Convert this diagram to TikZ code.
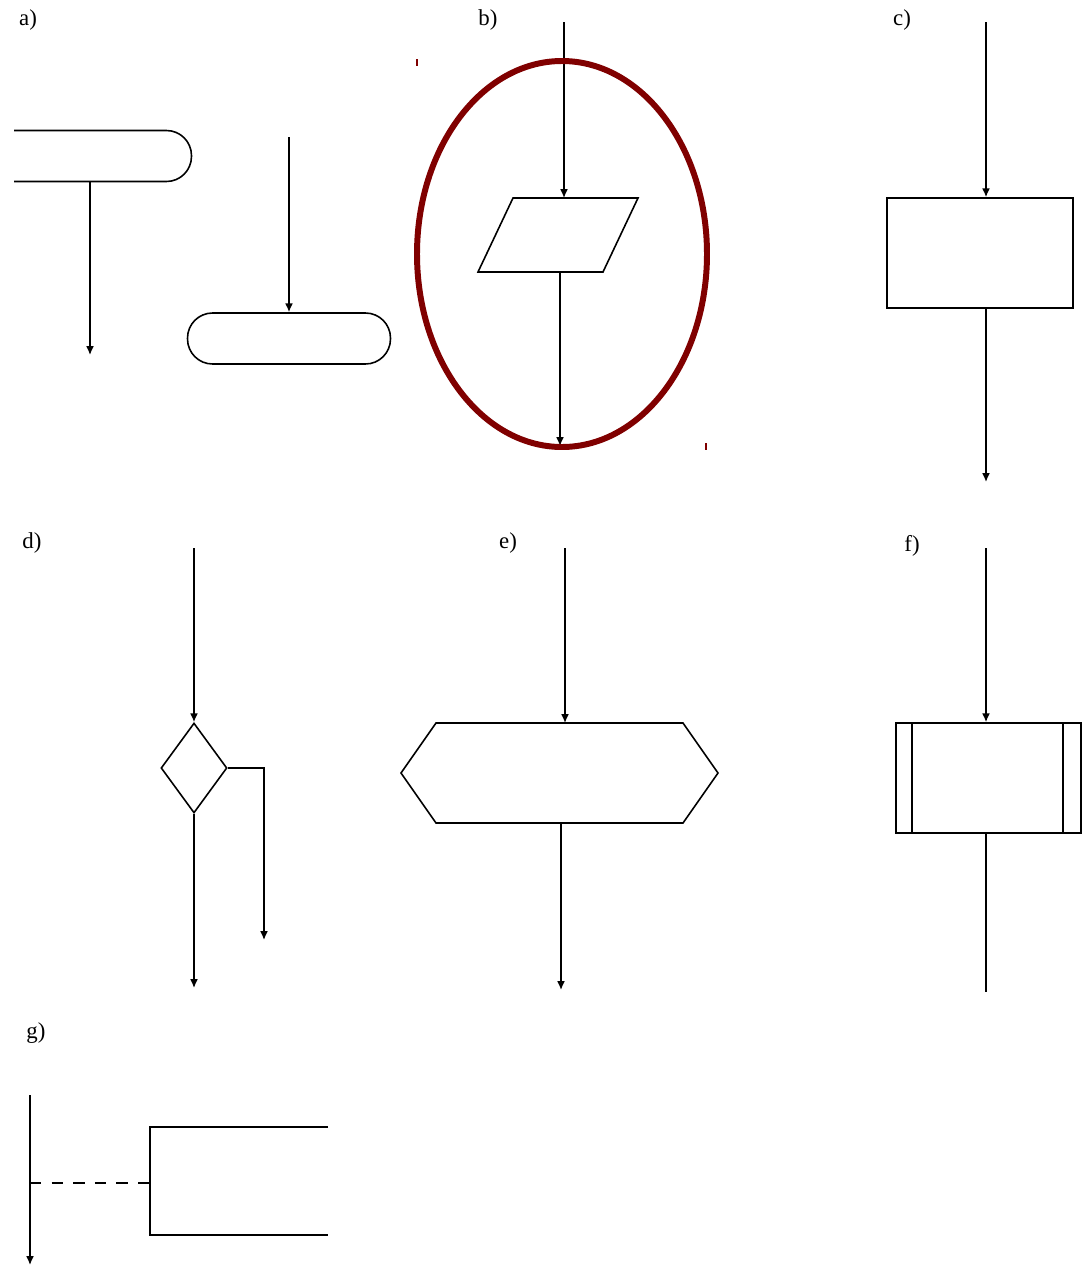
\documentclass[tikz,border=0pt]{standalone}
\usepackage{fontspec}
\setmainfont{Liberation Serif}
\usetikzlibrary{arrows.meta,shapes.geometric}
\definecolor{darkred}{RGB}{128,0,0}
\begin{document}
\begin{tikzpicture}[x=0.02cm,y=-0.02cm]
        \tikzstyle{line}=[draw, line width=0.9pt]
        \tikzstyle{flow}=[line, -{Latex[length=5pt,width=4.5pt]}]
        \tikzstyle{terminal}=[draw, line width=0.9pt, rectangle, rounded corners=0.5cm, minimum width=4.06cm, minimum height=1.02cm, inner sep=0pt]
        \tikzstyle{process}=[draw, line width=0.9pt, rectangle, inner sep=0pt]
        \tikzstyle{decision}=[draw, line width=0.9pt, diamond, minimum width=1.32cm, minimum height=1.8cm, inner sep=0pt]
        \tikzstyle{tag}=[font=\fontsize{13}{15}\selectfont, inner sep=0pt]

        \useasboundingbox (0,0) rectangle (1085,1268);

        \node[tag] (la) at (28,20) {a)};
        \node[tag] (lb) at (488,20) {b)};
        \node[tag] (lc) at (902,20) {c)};
        \node[tag] (ld) at (32,543) {d)};
        \node[tag] (le) at (508,543) {e)};
        \node[tag] (lf) at (912,546) {f)};
        \node[tag] (lg) at (36,1033) {g)};

        % a) terminals
        \begin{scope}
            \clip (14,0) rectangle (1085,1268);
            \node[terminal] (startA) at (90,156) {};
        \end{scope}
        \coordinate (endA) at (90,355);
        \draw[flow] (startA) -- (endA);
        \node[terminal] (stopA) at (289,338.5) {};
        \coordinate (inA) at (289,137);
        \draw[flow] (inA) -- (stopA);

        % b) input / output
        \coordinate (inB) at (564,22);
        \coordinate (ioTop) at (564,198);
        \coordinate (ioBot) at (560,272);
        \coordinate (outB) at (560,446);
        \draw[line] (513,198) -- (638,198) -- (603,272) -- (478,272) -- cycle;
        \draw[flow] (inB) -- (ioTop);
        \draw[flow] (ioBot) -- (outB);
        \draw[darkred, line width=3.4pt] (562,254) ellipse [x radius=145, y radius=193];
        \draw[darkred, line width=0.6pt] (417,59) -- (417,66);
        \draw[darkred, line width=0.6pt] (706,443) -- (706,450);

        % c) process
        \node[process, minimum width=3.72cm, minimum height=2.2cm] (procC) at (980,253) {};
        \coordinate (inC) at (986,22);
        \coordinate (outC) at (986,482);
        \draw[flow] (inC) -- (inC |- procC.north);
        \draw[flow] (inC |- procC.south) -- (outC);

        % d) decision
        \node[decision] (decD) at (194,768) {};
        \coordinate (inD) at (194,548);
        \coordinate (noD) at (194,988);
        \coordinate (cornerD) at (264,768);
        \coordinate (yesD) at (264,940);
        \draw[flow] (inD) -- (decD.north);
        \draw[flow] (decD.south) -- (noD);
        \draw[flow] (decD.east) -- (cornerD) -- (yesD);

        % e) preparation
        \draw[line] (436,723) -- (683,723) -- (718,773) -- (683,823) -- (436,823) -- (401,773) -- cycle;
        \coordinate (inE) at (565,548);
        \coordinate (prepTop) at (565,723);
        \coordinate (prepBot) at (561,823);
        \coordinate (outE) at (561,990);
        \draw[flow] (inE) -- (prepTop);
        \draw[flow] (prepBot) -- (outE);

        % f) predefined process
        \node[process, minimum width=3.7cm, minimum height=2.2cm] (subF) at (988.5,778) {};
        \draw[line] ([xshift=0.34cm]subF.north west) -- ([xshift=0.34cm]subF.south west);
        \draw[line] ([xshift=-0.38cm]subF.north east) -- ([xshift=-0.38cm]subF.south east);
        \coordinate (inF) at (986,548);
        \coordinate (outF) at (986,992);
        \draw[flow] (inF) -- (inF |- subF.north);
        \draw[line] (inF |- subF.south) -- (outF);

        % g) annotation
        \coordinate (topG) at (30,1095);
        \coordinate (botG) at (30,1265);
        \coordinate (tapG) at (30,1183);
        \coordinate (noteG) at (150,1183);
        \draw[flow] (topG) -- (botG);
        \draw[line, dash pattern=on 6.5pt off 5.8pt] (tapG) -- (noteG);
        \draw[line] (328,1127) -- (150,1127) -- (150,1235) -- (328,1235);
    \end{tikzpicture}
\end{document}
